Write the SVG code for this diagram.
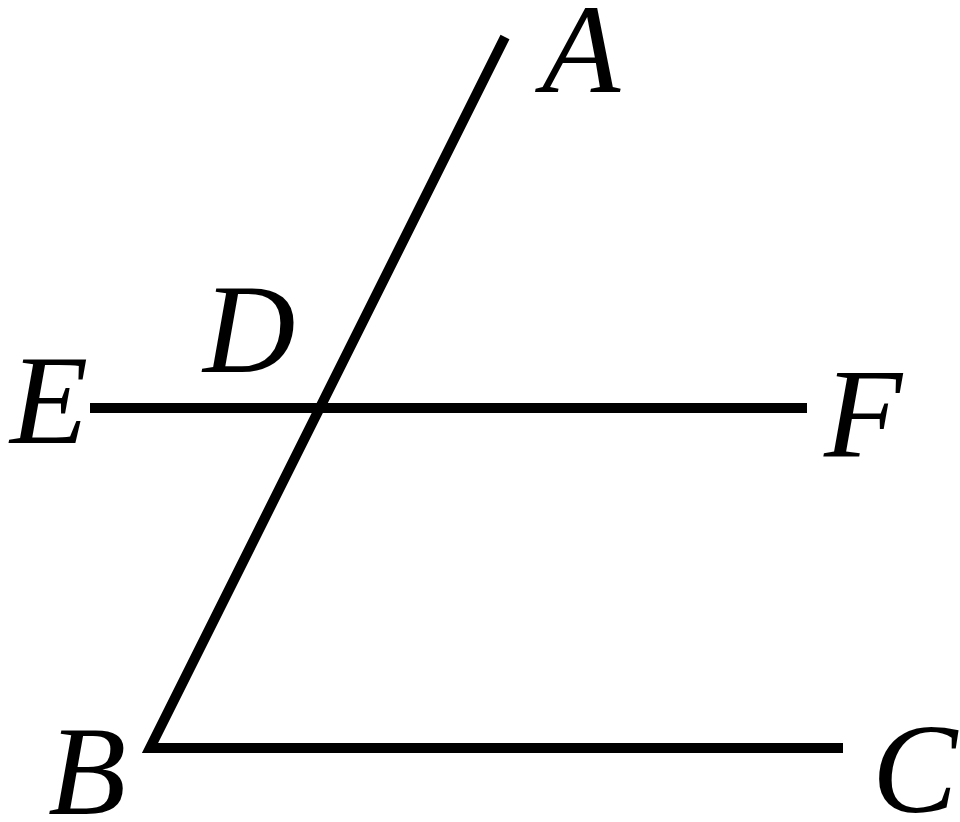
<svg xmlns="http://www.w3.org/2000/svg" width="960" height="822" viewBox="0 0 960 822">
<style>
.ln{stroke:#000;stroke-width:10;fill:none;stroke-linecap:butt;stroke-linejoin:miter}
.lb{font-family:"Liberation Serif","Times New Roman",serif;font-style:italic;font-size:128px;fill:#000}
</style>
<rect width="960" height="822" fill="#fff"/>
<g id="connectors">
<path class="ln" d="M505,37 L150,748 L843,748"/>
<line class="ln" x1="90" y1="408" x2="807" y2="408"/>
</g>
<g id="node-A"><text class="lb" x="542" y="92">A</text></g>
<g id="node-D"><text class="lb" x="203" y="372">D</text></g>
<g id="node-E"><text class="lb" x="10" y="443">E</text></g>
<g id="node-F"><text class="lb" x="824" y="456">F</text></g>
<g id="node-B"><text class="lb" x="48" y="814">B</text></g>
<g id="node-C"><text class="lb" x="872" y="812">C</text></g>
</svg>
